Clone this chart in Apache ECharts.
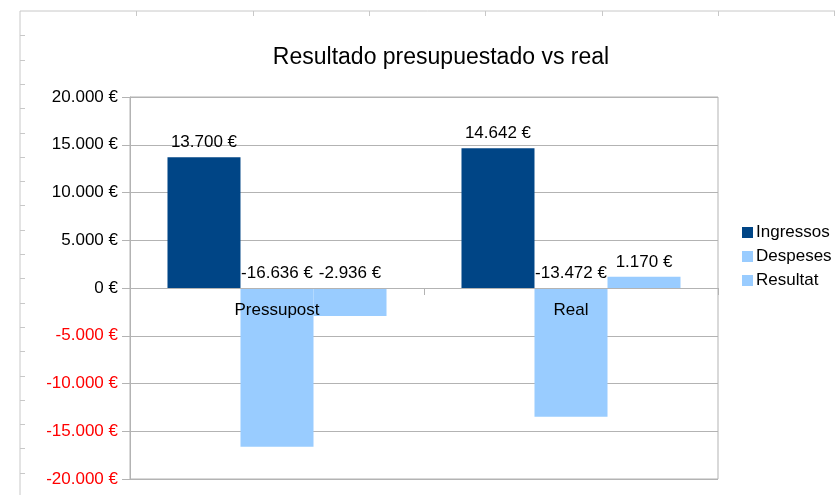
<!DOCTYPE html>
<html>
<head>
<meta charset="utf-8">
<script src="https://cdn.jsdelivr.net/npm/echarts@6/dist/echarts.min.js"></script>
<style>html,body{margin:0;padding:0;background:#fff}#c{width:835px;height:495px}</style>
</head>
<body>
<div id="c"></div>
<script>
var categories = ['Pressupost', 'Real'];
var ingressos = [13700, 14642];
var despeses = [-16636, -13472];
var resultat = [-2936, 1170];
var seriesNames = ['Ingressos', 'Despeses', 'Resultat'];
var yTicks = [-20000, -15000, -10000, -5000, 0, 5000, 10000, 15000, 20000];

function fmt(v) {
  var s = String(Math.abs(Math.round(v))).replace(/\B(?=(\d{3})+(?!\d))/g, '.');
  return (v < 0 ? '-' : '') + s + ' €';
}

var FONT = '"Liberation Sans", Arial, sans-serif';
var FS = 17;
var chart = echarts.init(document.getElementById('c'));

// decorative frame (spreadsheet selection frame)
var deco = [];
deco.push({type: 'line', shape: {x1: 20, y1: 11, x2: 835, y2: 11}, style: {stroke: '#c8c8c8', lineWidth: 1}});
deco.push({type: 'line', shape: {x1: 20, y1: 11, x2: 20, y2: 495}, style: {stroke: '#c8c8c8', lineWidth: 1}});
for (var i = 1; i <= 7; i++) {
  var x = Math.round(20 + i * 116.3) + 0.5;
  deco.push({type: 'line', shape: {x1: x, y1: 11, x2: x, y2: 16}, style: {stroke: '#c8c8c8', lineWidth: 1}});
}
for (var j = 1; j <= 20; j++) {
  var y = Math.round(11 + j * 24.3) + 0.5;
  deco.push({type: 'line', shape: {x1: 20, y1: y, x2: 25, y2: y}, style: {stroke: '#c8c8c8', lineWidth: 1}});
}

var labelCfg = {
  show: true, position: 'top', distance: 6,
  color: '#000', fontFamily: FONT, fontSize: FS,
  formatter: function (p) { return fmt(p.value); }
};

chart.setOption({
  animation: false,
  backgroundColor: '#fff',
  title: {
    text: 'Resultado presupuestado vs real',
    left: 436, top: 41, textAlign: 'center',
    textStyle: {fontFamily: FONT, fontSize: 23, fontWeight: 'normal', color: '#000'}
  },
  legend: {
    orient: 'vertical', left: 737, top: 219,
    itemWidth: 11, itemHeight: 11, itemGap: 7, icon: 'rect',
    textStyle: {fontFamily: FONT, fontSize: FS, color: '#000', padding: [0, 0, 0, -2]},
    data: seriesNames
  },
  grid: {left: 130, right: 117, top: 97, bottom: 16, show: true, borderColor: '#b3b3b3', borderWidth: 1, containLabel: false, outerBoundsMode: 'none'},
  xAxis: {
    type: 'category', data: categories, z: 10,
    position: 'bottom', offset: -191,
    axisLine: {onZero: false, lineStyle: {color: '#b3b3b3'}},
    axisTick: {show: true, length: 7, lineStyle: {color: '#b3b3b3'}},
    axisLabel: {color: '#000', fontFamily: FONT, fontSize: FS, margin: 14}
  },
  yAxis: {
    type: 'value', min: -20000, max: 20000, interval: 5000,
    axisLine: {show: true, lineStyle: {color: '#b3b3b3'}},
    axisTick: {show: true, length: 8, lineStyle: {color: '#b3b3b3'}},
    splitLine: {lineStyle: {color: '#b3b3b3'}},
    axisLabel: {
      fontFamily: FONT, fontSize: FS, margin: 12,
      color: function (v) { return Number(v) < 0 ? '#ff0000' : '#000'; },
      formatter: function (v) { return fmt(v); }
    }
  },
  series: [
    {name: seriesNames[0], type: 'bar', data: ingressos, itemStyle: {color: '#004586'}, barGap: '0%', barCategoryGap: '25.5%', label: labelCfg},
    {name: seriesNames[1], type: 'bar', data: despeses, itemStyle: {color: '#99ccff'}, barGap: '0%', barCategoryGap: '25.5%', label: labelCfg},
    {name: seriesNames[2], type: 'bar', data: resultat, itemStyle: {color: '#99ccff'}, barGap: '0%', barCategoryGap: '25.5%', label: labelCfg}
  ],
  graphic: deco
});
</script>
</body>
</html>
